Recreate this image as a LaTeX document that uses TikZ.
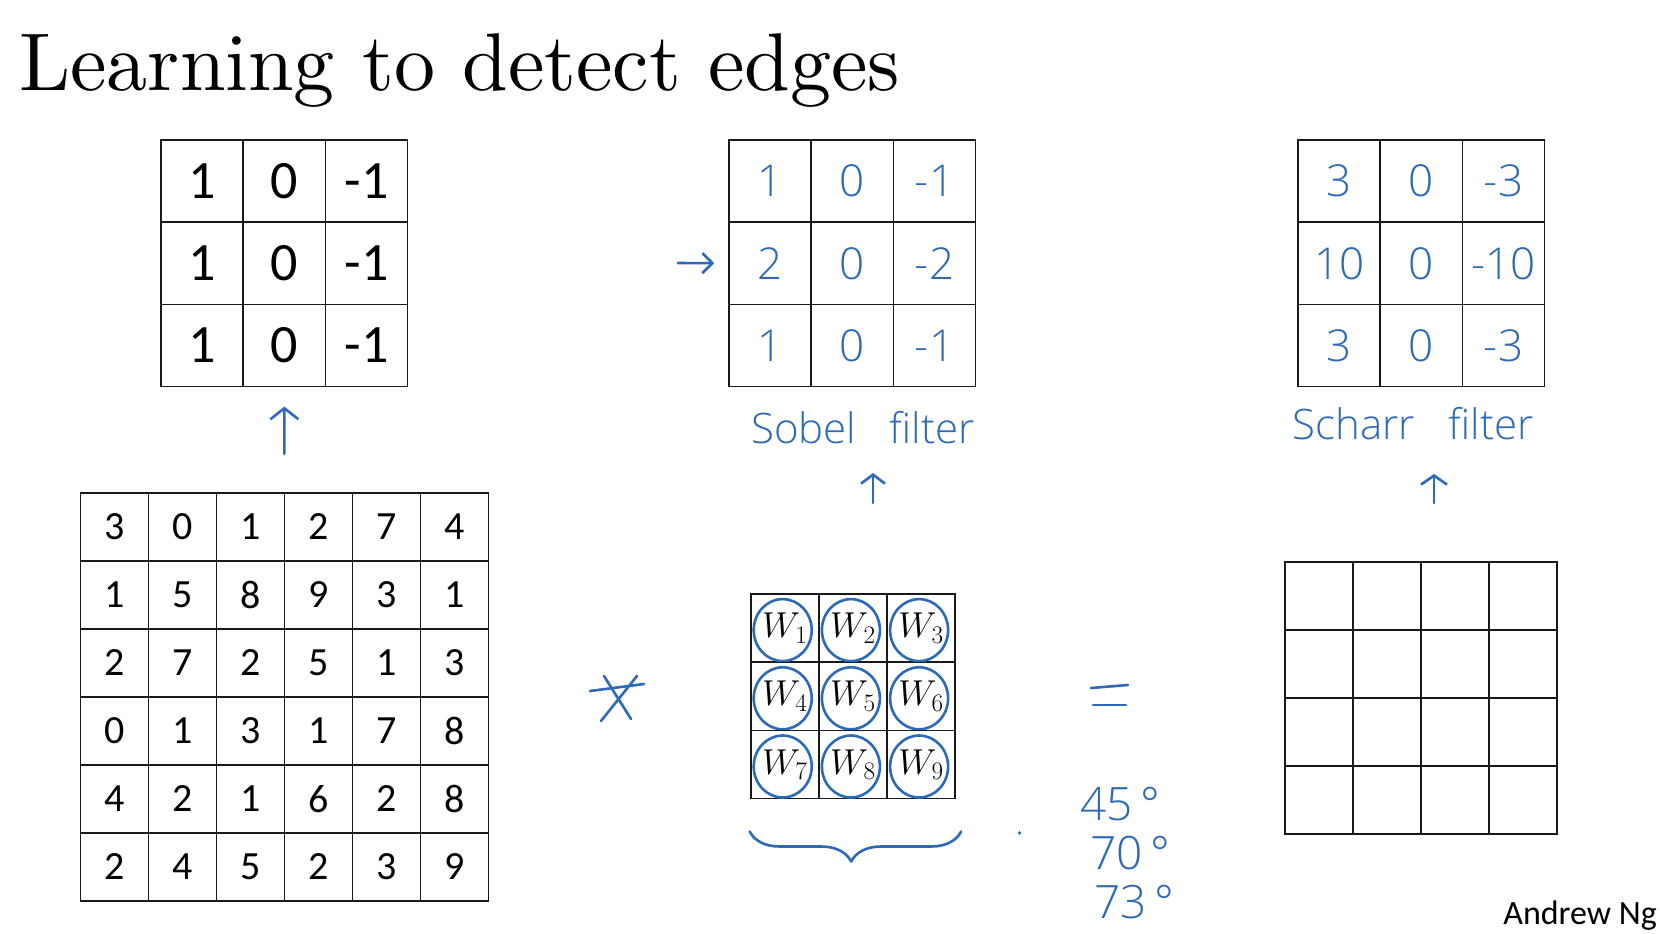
\RequirePackage{fix-cm}
\documentclass[tikz,border=0pt]{standalone}
\usepackage{fontspec}
\usepackage{amsmath}
\usetikzlibrary{arrows.meta,fit,decorations.pathreplacing}
\newfontfamily\titlefont{lmroman10-regular}[Extension=.otf]
\newfontfamily\calfont{Carlito}
\newfontfamily\handfont{Open Sans}[UprightFont=* Light]
\definecolor{cInk} {RGB}{45, 105, 185}
\definecolor{cGrid}{RGB}{25,  25,  25}
\tikzset{
  cell/.style   = {draw=cGrid, line width=1.6pt, inner sep=0pt},
  cBig/.style   = {cell, minimum size=82.2pt,
                   font=\calfont\fontsize{54}{60}\selectfont},
  cImg/.style   = {cell, minimum size=68pt,
                   font=\calfont\fontsize{40}{46}\selectfont},
  cW/.style     = {cell, minimum size=68pt,
                   font=\fontsize{36}{40}\selectfont},
  cHand/.style  = {cBig, text=cInk, font=\handfont\fontsize{44}{50}\selectfont},
  hand/.style   = {text=cInk, font=\handfont\fontsize{42}{48}\selectfont, inner sep=0pt},
  ink/.style    = {cInk, line width=2.6pt, line cap=round, line join=round},
  H/.style      = {ink, -{Straight Barb[length=11pt, width=28pt, line width=2.6pt]}},
  frame/.style  = {inner sep=0pt},
}

\begin{document}
\begin{tikzpicture}[x=1pt, y=-1pt]

%% Layout: 1 unit = 1 px of the slide, y runs downwards
\fill[white] (0,0) rectangle (1660,934);
\useasboundingbox (0,0) rectangle (1660,934);

%% ─── Title ───────────────────────────────────────────────────────
\node[anchor=base west, inner sep=0pt, font=\titlefont\fontsize{82}{90}\selectfont]
  (title) at (19,90) {Learning to detect edges};

%% ─── vertical edge filter ───────────────────────────────────────
\foreach \rw [count=\i] in {{1,0,-1},{1,0,-1},{1,0,-1}}
  \foreach \v [count=\j] in \rw
    \node[cBig] (v-\i-\j) at ({161+82.2*(\j-0.5)}, {140+82.2*(\i-0.5)}) {\v};
\node[frame, fit=(v-1-1)(v-3-3)] (vert) {};

%% ─── image 6x6 ──────────────────────────────────────────────────
\foreach \rw [count=\i] in {{3,0,1,2,7,4},{1,5,8,9,3,1},{2,7,2,5,1,3},
                            {0,1,3,1,7,8},{4,2,1,6,2,8},{2,4,5,2,3,9}}
  \foreach \v [count=\j] in \rw
    \node[cImg] (m-\i-\j) at ({80.5+68*(\j-0.5)}, {493+68*(\i-0.5)}) {\v};
\node[frame, fit=(m-1-1)(m-6-6)] (img) {};

\draw[H] (img.north) -- (vert.south) [shorten <=38pt, shorten >=19pt];

%% ─── learned weights ────────────────────────────────────────────
\foreach \i in {1,2,3}
  \foreach \j in {1,2,3} {
    \pgfmathtruncatemacro{\n}{3*(\i-1)+\j}
    \node[cW] (w-\i-\j) at ({750.6+68.2*(\j-0.5)}, {594+68.2*(\i-0.5)}) {$W_{\n}$};
    \draw[ink] ([xshift=-2pt, yshift=-2pt]w-\i-\j.center) ellipse [x radius=29, y radius=31];
  }
\node[frame, fit=(w-1-1)(w-3-3)] (wgt) {};

\draw[ink, decorate, decoration={brace, mirror, amplitude=30pt, aspect=0.48}]
  ([yshift=-32pt]wgt.south west) -- ([yshift=-32pt, xshift=5pt]wgt.south east);

%% convolution and equals signs
\draw[ink] (604,676) -- (631,719);
\draw[ink] (637,676) -- (601,721);
\draw[ink] (590,691) -- (644,684);

\draw[ink] (1091,688) -- (1128,685);
\draw[ink] (1093,705) -- (1126,705);
\fill[cInk] (1019.5,833) circle (1.8);

%% ─── output 4x4 ─────────────────────────────────────────────────
\foreach \i in {1,2,3,4}
  \foreach \j in {1,2,3,4}
    \node[cell, minimum size=68pt] (o-\i-\j) at ({1285+68*(\j-0.5)}, {562+68*(\i-0.5)}) {};

%% ─── Sobel filter ───────────────────────────────────────────────
\foreach \rw [count=\i] in {{1,0,-1},{2,0,-2},{1,0,-1}}
  \foreach \v [count=\j] in \rw
    \node[cHand] (s-\i-\j) at ({729+82.2*(\j-0.5)}, {140+82.2*(\i-0.5)}) {\v};
\node[frame, fit=(s-1-1)(s-3-3)] (sob) {};

\coordinate (sobIn) at (678,263);
\draw[ink, -{Straight Barb[length=10pt, width=20pt, line width=2.6pt]}]
  (sobIn) -- (s-2-1.west) [shorten >=14pt];

\node[hand, anchor=base] (sobLbl) at (863,443) {Sobel\hspace{0.8em}filter};

\coordinate (sobUpA) at (873,503);
\coordinate (sobUpB) at (873,473);
\draw[ink, -{Straight Barb[length=9pt, width=24pt, line width=2.6pt]}] (sobUpA) -- (sobUpB);

%% ─── Scharr filter ──────────────────────────────────────────────
\foreach \rw [count=\i] in {{3,0,-3},{10,0,-10},{3,0,-3}}
  \foreach \v [count=\j] in \rw
    \node[cHand] (c-\i-\j) at ({1298+82.2*(\j-0.5)}, {140+82.2*(\i-0.5)}) {\v};
\node[frame, fit=(c-1-1)(c-3-3)] (sch) {};

\node[hand, anchor=base] (schLbl) at (1413,439) {Scharr\hspace{0.8em}filter};

\coordinate (schUpA) at (1434,503);
\coordinate (schUpB) at (1434,474);
\draw[ink, -{Straight Barb[length=9pt, width=26pt, line width=2.6pt]}] (schUpA) -- (schUpB);

%% ─── angles ─────────────────────────────────────────────────────
\node[hand, anchor=base west, font=\handfont\fontsize{46}{50}\selectfont] (d45) at (1080,820) {45\,°};
\node[hand, anchor=base west, font=\handfont\fontsize{46}{50}\selectfont] (d70) at (1090,869) {70\,°};
\node[hand, anchor=base west, font=\handfont\fontsize{46}{50}\selectfont] (d73) at (1094,918) {73\,°};

%% ─── credit ─────────────────────────────────────────────────────
\node[anchor=base east, inner sep=0pt, font=\calfont\fontsize{34}{40}\selectfont]
  (credit) at (1657,924) {Andrew Ng};

\end{tikzpicture}
\end{document}
